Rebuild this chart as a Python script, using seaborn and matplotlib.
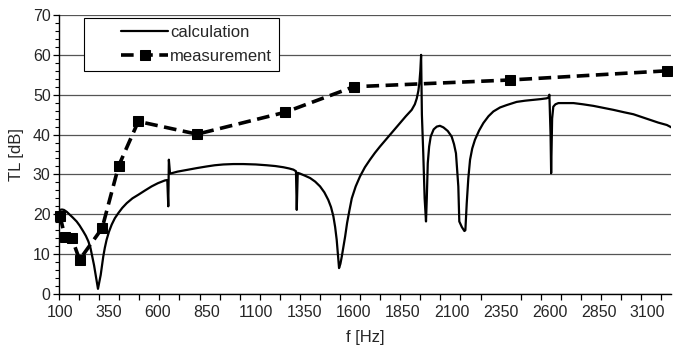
import numpy as np
import pandas as pd
import matplotlib
matplotlib.use("Agg")
import matplotlib.pyplot as plt
import seaborn as sns

# measured TL points
meas_f = [100, 125, 160, 200, 315, 400, 500, 800, 1250, 1600, 2400, 3200]
meas_tl = [19.6, 14.4, 14.1, 8.6, 16.5, 32.2, 43.3, 40.1, 45.6, 52.0, 53.7, 56.0]

# calculated TL
calc_f = [100, 110, 120, 135, 150, 165, 185, 200, 219, 232, 245, 256, 265, 274,
          282, 289, 294, 300, 308, 315, 321, 329, 338, 350, 364, 380, 398, 418,
          441, 470, 500, 535, 568, 600, 636, 648, 653, 656, 662, 700, 755, 800,
          849, 890, 934, 985, 1036, 1100, 1156, 1200, 1241, 1270, 1292, 1305,
          1309, 1314, 1326, 1350, 1377, 1403, 1428, 1450, 1470, 1484, 1496,
          1505, 1513, 1519, 1525, 1532, 1539, 1547, 1556, 1566, 1578, 1590,
          1610, 1632, 1657, 1683, 1708, 1734, 1760, 1785, 1810, 1836, 1866,
          1896, 1912, 1922, 1930, 1935, 1940, 1944, 1948, 1955, 1962, 1969,
          1973, 1978, 1985, 1993, 2008, 2024, 2040, 2058, 2080, 2100, 2112,
          2122, 2128, 2134, 2139, 2152, 2165, 2170, 2177, 2185, 2194, 2205,
          2219, 2240, 2262, 2288, 2313, 2347, 2381, 2432, 2475, 2517, 2555,
          2586, 2596, 2599, 2605, 2608, 2613, 2619, 2630, 2645, 2690, 2722,
          2770, 2824, 2875, 2926, 2980, 3028, 3070, 3113, 3155, 3199, 3230]
calc_tl = [21.1, 21.2, 21.1, 20.6, 19.9, 19.2, 18.2, 17.2, 15.7, 14.6, 13.2,
           11.5, 9.4, 7.2, 4.8, 2.6, 1.3, 2.8, 4.8, 7.2, 9.4, 11.6, 13.6, 15.6,
           17.4, 19.0, 20.3, 21.6, 22.8, 24.0, 24.9, 26.0, 27.0, 27.8, 28.5,
           28.6, 22.0, 33.7, 30.2, 30.7, 31.2, 31.6, 32.0, 32.3, 32.5, 32.6,
           32.6, 32.5, 32.3, 32.1, 31.8, 31.5, 31.2, 30.8, 21.1, 30.4, 30.2,
           29.7, 29.1, 28.2, 27.0, 25.5, 23.6, 21.8, 19.5, 16.8, 13.6, 10.0,
           6.5, 7.6, 9.4, 11.8, 14.4, 17.8, 21.0, 24.0, 27.0, 29.5, 31.8, 33.7,
           35.4, 37.0, 38.5, 39.9, 41.4, 42.9, 44.6, 46.2, 47.6, 49.1, 51.0,
           52.9, 56.0, 60.0, 45.0, 35.3, 24.0, 18.2, 24.0, 32.8, 37.0, 39.5,
           41.3, 42.0, 42.2, 41.8, 40.9, 39.5, 37.6, 35.3, 31.0, 27.0, 18.2,
           16.8, 15.8, 16.0, 22.8, 29.0, 33.7, 36.5, 38.7, 41.0, 42.9, 44.6,
           45.8, 46.8, 47.4, 48.2, 48.5, 48.7, 48.9, 49.1, 49.4, 50.0, 40.0,
           30.3, 44.0, 47.0, 47.6, 47.9, 47.9, 47.9, 47.6, 47.2, 46.7, 46.2,
           45.6, 45.1, 44.4, 43.7, 43.0, 42.4, 41.6]

x_labels = [100, 350, 600, 850, 1100, 1350, 1600, 1850, 2100, 2350, 2600, 2850, 3100]

sns.set_style("white")
plt.rcParams["font.family"] = ["Liberation Sans", "DejaVu Sans"]
plt.rcParams["font.size"] = 11

fig, ax = plt.subplots(figsize=(6.73, 3.54), dpi=100)
fig.subplots_adjust(left=59 / 673, right=671 / 673, top=1 - 15 / 354, bottom=1 - 294 / 354)

calc_df = pd.DataFrame({"f": calc_f, "tl": calc_tl})
meas_df = pd.DataFrame({"f": meas_f, "tl": meas_tl})

sns.lineplot(data=calc_df, x="f", y="tl", ax=ax, color="black", lw=1.6,
             label="calculation", sort=False, zorder=3)
sns.lineplot(data=meas_df, x="f", y="tl", ax=ax, color="black", lw=2.6,
             marker="s", markersize=7.5, markeredgecolor="black",
             label="measurement", sort=False, zorder=4, clip_on=False)
ax.lines[1].set_dashes((3.5, 1.8))

ax.set_xlim(95, 3220)
ax.set_ylim(0, 70)

# y axis: labelled every 10, small marks every 2
ax.set_yticks(np.arange(0, 71, 10))
ax.set_yticks(np.arange(0, 71, 2), minor=True)
ax.yaxis.grid(True, which="major", color="#555555", lw=0.9)
ax.xaxis.grid(False)

# x axis: labels every 250 Hz, marks about every 100 Hz
ax.set_xticks(x_labels)
ax.set_xticks(np.arange(95, 3221, 102.5), minor=True)
ax.tick_params(axis="x", which="major", length=0, pad=8, labelsize=11.5)
ax.tick_params(axis="x", which="minor", length=4, width=0.9, direction="out",
               color="black", bottom=True)
ax.tick_params(axis="y", which="major", length=4, width=0.9, direction="out",
               color="black", left=True, pad=2, labelsize=11.5)
ax.tick_params(axis="y", which="minor", length=3, width=0.8, direction="out",
               color="black", left=True)

for side in ["top", "right"]:
    ax.spines[side].set_visible(False)
for side in ["left", "bottom"]:
    ax.spines[side].set_color("black")
    ax.spines[side].set_linewidth(1.0)

ax.set_xlabel("f [Hz]", fontsize=12, labelpad=7)
ax.set_ylabel("TL [dB]", fontsize=12, labelpad=6)

leg = ax.legend(loc="upper left", bbox_to_anchor=(0.041, 0.99), borderaxespad=0,
                frameon=True, fancybox=False, edgecolor="black", framealpha=1,
                handlelength=4.6, fontsize=12, borderpad=0.45, labelspacing=0.5,
                handletextpad=0.1)
leg.get_frame().set_linewidth(0.8)
leg.set_zorder(5)

# the original legend keys start well inside the box: trim the left part
for h in leg.legend_handles:
    xd = np.asarray(h.get_xdata(), dtype=float)
    x0, x1 = xd[0] + 21, xd[-1]
    h.set_xdata(np.linspace(x0, x1, len(xd)))

plt.savefig("out.png", dpi=100)
plt.close()
